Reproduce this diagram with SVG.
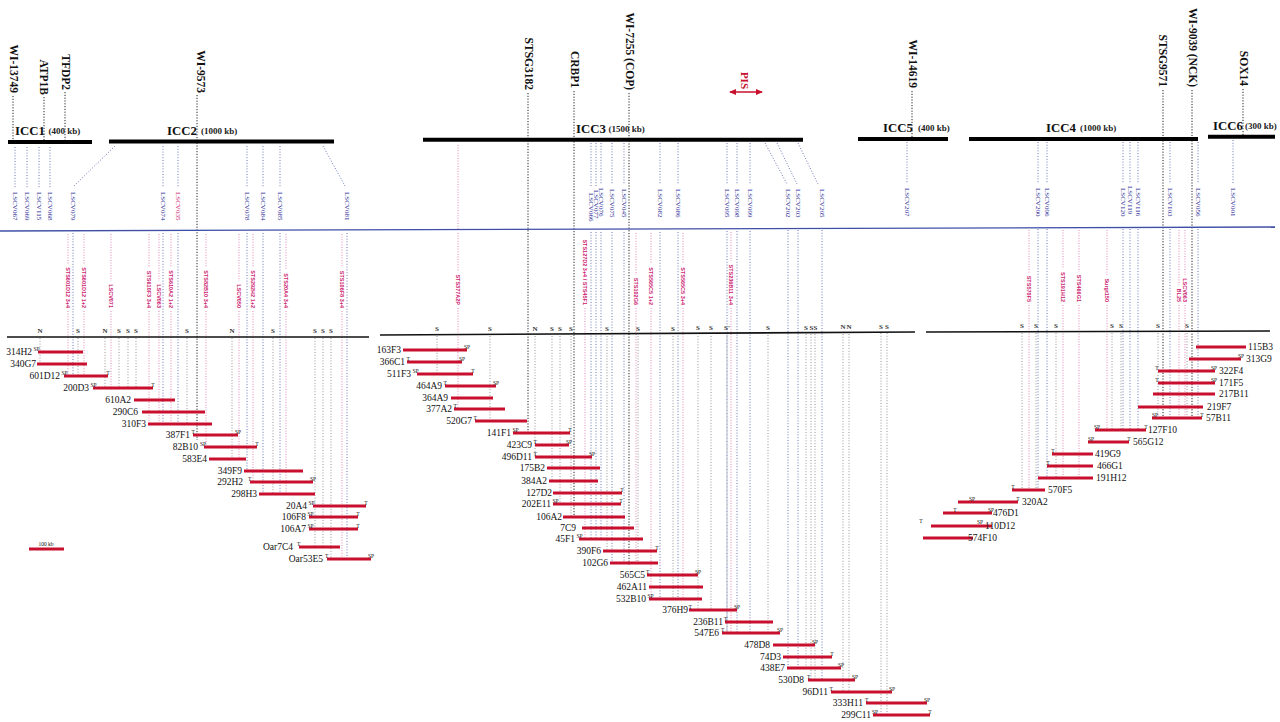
<svg xmlns="http://www.w3.org/2000/svg" width="1280" height="722" viewBox="0 0 1280 722">
<defs>
<style>
.mk{font:bold 11.5px "Liberation Serif",serif;fill:#111;text-anchor:end;dominant-baseline:central}
.icc{font:bold 12.8px "Liberation Serif",serif;fill:#111}
.kb{font:bold 9px "Liberation Serif",serif;fill:#222}
.ls{font:7px "Liberation Serif",serif;fill:#2a2a96;dominant-baseline:central}
.lsm{fill:#cc1a70}
.mg{font:bold 5.5px "Liberation Sans",sans-serif;fill:#cc1a70;text-anchor:end;dominant-baseline:central}
.sn{font:bold 7px "Liberation Serif",serif;fill:#333;text-anchor:middle}
.cl{font:9.5px "Liberation Serif",serif;fill:#111}
.sp{font:5.5px "Liberation Serif",serif;fill:#111}
.spm{font:5.5px "Liberation Serif",serif;fill:#111;text-anchor:middle}
.bar{stroke:#c8102e;stroke-width:3}
.icb{stroke:#000;stroke-width:4}
.dk{stroke:#222;stroke-width:1;stroke-dasharray:1.2 1.6;fill:none}
.bl{stroke:#5a68b0;stroke-width:0.9;stroke-dasharray:1 1.8;fill:none}
.pk{stroke:#e07aae;stroke-width:0.9;stroke-dasharray:1 1.6;fill:none}
.gy{stroke:#8a8a8a;stroke-width:0.9;stroke-dasharray:1 1.8;fill:none}
.sts{stroke:#111;stroke-width:1.6}
</style>
<marker id="arr" markerUnits="userSpaceOnUse" markerWidth="7" markerHeight="6" refX="6" refY="3" orient="auto-start-reverse"><path d="M0,0 L7,3 L0,6 z" fill="#c8102e"/></marker>
</defs>
<rect width="1280" height="722" fill="#fff"/>

<g id="connectors">
<path class="bl" d="M15 147V188M27 147V188M39 147V188M50 147V188M115 146L73 187M163 146V187M178 146V187M247 146V187M263 146V187M280 146V187M323 146L345 186M591 143V186M596 143V186M601 143V185M612 143V185M624 143V185M660 143V185M678 143V185M727 143V185M737 143V185M750 143V185M765 143L787 184M777 143L797 184M798 143L818 184M907 142V184M1038 142V184M1047 142V184M1123 142V184M1130 142V184M1138 142V184M1170 142V184M1198 142V184M1233 140V184"/>
<path class="bl" d="M73 233V376M163 233V424M178 233V424M247 233V471M263 233V494M280 233V494M347 233V559M591 232V539M596 232V539M601 232V539M612 232V563M624 232V563M660 232V599M678 232V599M727 231V633M737 231V633M750 231V633M788 230V668M798 230V668M822 230V680M1038 229V490M1047 229V478M1123 229V430M1130 229V430M1138 229V430M1170 229V418M1198 229V418"/>
<path class="pk" d="M68 234V264M68 311V376M84 234V264M84 311V376M111 234V281M111 311V388M149 234V268M149 311V424M159 234V281M159 311V424M171 234V267M171 311V424M206 234V267M206 311V447M239 234V281M239 311V459M253 234V267M253 311V482M286 234V270M286 311V494M342 234V268M342 311V559M458 145V229M458 233V271M458 308V409M585 308V539M636 233V275M636 308V563M651 233V264M651 308V599M683 233V264M683 308V599M731 232V261M731 308V633M1029 230V273M1029 305V490M1063 230V269M1063 305V478M1079 230V272M1079 305V478M1107 230V275M1107 305V430M1179 230V285M1179 305V418M1185 230V275M1185 305V418"/>
<path class="gy" d="M40 338V364M78 338V376M105 338V388M119 338V388M128 338V388M136 338V388M187 338V424M232 338V459M273 338V494M315 338V547M323 338V547M331 338V559M437 336V374M490 336V421M535 336V457M552 336V481M560 336V504M571 336V517M607 336V551M638 336V563M673 336V599M698 336V610M711 336V610M727 336V633M768 335V633M806 334V668M811 334V680M815 334V680M843 334V692M849 334V692M881 333V715M887 333V715M1022 333V490M1036 333V490M1056 333V478M1112 333V430M1121 333V430M1158 333V418M1187 333V418"/>
<path class="dk" d="M13 96V141M44 97V141M65 92V141M197 95V440M528 93V432M574 91V517M629 93V565M912 91V138M1163 90V418M1192 90V418M1243 89V136"/>
</g>

<g id="icc-bars">
<g id="icc1"><line class="icb" x1="8" y1="142" x2="92" y2="142"/><text class="icc" x="15" y="135">ICC1</text><text class="kb" x="48.5" y="134">(400 kb)</text></g>
<g id="icc2"><line class="icb" x1="109" y1="141.5" x2="334" y2="141.5"/><text class="icc" x="167" y="135">ICC2</text><text class="kb" x="201" y="134">(1000 kb)</text></g>
<g id="icc3"><line class="icb" x1="423" y1="139.7" x2="803" y2="139.7"/><text class="icc" x="576" y="133">ICC3</text><text class="kb" x="608.5" y="132">(1500 kb)</text></g>
<g id="icc5"><line class="icb" x1="858" y1="139" x2="948" y2="139"/><text class="icc" x="883" y="132">ICC5</text><text class="kb" x="918" y="131">(400 kb)</text></g>
<g id="icc4"><line class="icb" x1="969" y1="139" x2="1198" y2="139"/><text class="icc" x="1046" y="132">ICC4</text><text class="kb" x="1080" y="131">(1000 kb)</text></g>
<g id="icc6"><line class="icb" x1="1208" y1="136.7" x2="1275" y2="136.7"/><text class="icc" x="1213" y="130">ICC6</text><text class="kb" x="1245" y="129">(300 kb)</text></g>
</g>

<g id="markers">
<g id="m-wi13749"><text class="mk" transform="translate(13.8,93) rotate(90)">WI-13749</text></g>
<g id="m-atp1b"><text class="mk" transform="translate(44,95) rotate(90)">ATP1B</text></g>
<g id="m-tfdp2"><text class="mk" transform="translate(65.5,90) rotate(90)">TFDP2</text></g>
<g id="m-wi9573"><text class="mk" transform="translate(200.5,93) rotate(90)">WI-9573</text></g>
<g id="m-stsg3182"><text class="mk" transform="translate(528.5,90) rotate(90)">STSG3182</text></g>
<g id="m-crbp1"><text class="mk" transform="translate(575,88) rotate(90)">CRBP1</text></g>
<g id="m-wi7255"><text class="mk" transform="translate(630,90) rotate(90)">WI-7255 (COP)</text></g>
<g id="m-wi14619"><text class="mk" transform="translate(913,88) rotate(90)">WI-14619</text></g>
<g id="m-stsg9571"><text class="mk" transform="translate(1163,87) rotate(90)">STSG9571</text></g>
<g id="m-wi9039"><text class="mk" transform="translate(1192.5,87) rotate(90)">WI-9039 (NCK)</text></g>
<g id="m-sox14"><text class="mk" transform="translate(1243.5,86) rotate(90)">SOX14</text></g>
<g id="m-pis"><text class="mk" style="fill:#c8102e;font-size:11px" transform="translate(745,89) rotate(90)">PIS</text><line x1="730" y1="92" x2="762" y2="92" stroke="#c8102e" stroke-width="1.5" marker-start="url(#arr)" marker-end="url(#arr)"/></g>
</g>

<line id="bac-axis" x1="0" y1="231" x2="1275" y2="227" stroke="#3f4fa6" stroke-width="1.3"/>

<g id="lscv-labels">
<g id="l067"><text class="ls" transform="translate(15,192) rotate(90)">LSCV067</text></g>
<g id="l069"><text class="ls" transform="translate(27,192) rotate(90)">LSCV069</text></g>
<g id="l115"><text class="ls" transform="translate(39,192) rotate(90)">LSCV115</text></g>
<g id="l068"><text class="ls" transform="translate(50,192) rotate(90)">LSCV068</text></g>
<g id="l079"><text class="ls" transform="translate(73,192) rotate(90)">LSCV079</text></g>
<g id="l074"><text class="ls" transform="translate(163,192) rotate(90)">LSCV074</text></g>
<g id="l035"><text class="ls lsm" transform="translate(178,192) rotate(90)">LSCV035</text></g>
<g id="l078"><text class="ls" transform="translate(247,192) rotate(90)">LSCV078</text></g>
<g id="l084"><text class="ls" transform="translate(263,192) rotate(90)">LSCV084</text></g>
<g id="l085"><text class="ls" transform="translate(280,192) rotate(90)">LSCV085</text></g>
<g id="l081"><text class="ls" transform="translate(347,192) rotate(90)">LSCV081</text></g>
<g id="l066"><text class="ls" transform="translate(591,193) rotate(90)">LSCV066</text></g>
<g id="l077"><text class="ls" transform="translate(596,190) rotate(90)">LSCV077</text></g>
<g id="l076"><text class="ls" transform="translate(601,188) rotate(90)">LSCV076</text></g>
<g id="l075"><text class="ls" transform="translate(612,189) rotate(90)">LSCV075</text></g>
<g id="l045"><text class="ls" transform="translate(624,189) rotate(90)">LSCV045</text></g>
<g id="l082"><text class="ls" transform="translate(660,189) rotate(90)">LSCV082</text></g>
<g id="l086"><text class="ls" transform="translate(678,189) rotate(90)">LSCV086</text></g>
<g id="l095"><text class="ls" transform="translate(727,189) rotate(90)">LSCV095</text></g>
<g id="l098"><text class="ls" transform="translate(737,189) rotate(90)">LSCV098</text></g>
<g id="l099"><text class="ls" transform="translate(750,189) rotate(90)">LSCV099</text></g>
<g id="l202"><text class="ls" transform="translate(788,189) rotate(90)">LSCV202</text></g>
<g id="l203"><text class="ls" transform="translate(798,189) rotate(90)">LSCV203</text></g>
<g id="l205"><text class="ls" transform="translate(822,189) rotate(90)">LSCV205</text></g>
<g id="l207"><text class="ls" transform="translate(907,188) rotate(90)">LSCV207</text></g>
<g id="l200"><text class="ls" transform="translate(1038,188) rotate(90)">LSCV200</text></g>
<g id="l096"><text class="ls" transform="translate(1047,188) rotate(90)">LSCV096</text></g>
<g id="l120"><text class="ls" transform="translate(1123,188) rotate(90)">LSCV120</text></g>
<g id="l119"><text class="ls" transform="translate(1130,186) rotate(90)">LSCV119</text></g>
<g id="l116"><text class="ls" transform="translate(1138,188) rotate(90)">LSCV116</text></g>
<g id="l103"><text class="ls" transform="translate(1170,188) rotate(90)">LSCV103</text></g>
<g id="l056"><text class="ls" transform="translate(1198,188) rotate(90)">LSCV056</text></g>
<g id="l001"><text class="ls" transform="translate(1233,188) rotate(90)">LSCV001</text></g>
</g>

<g id="sts-labels">
<g id="s1"><text class="mg" transform="translate(68,308) rotate(90)">STS601D12 3+4</text></g>
<g id="s2"><text class="mg" transform="translate(84,308) rotate(90)">STS601D12 1+2</text></g>
<g id="s3"><text class="mg" transform="translate(111,308) rotate(90)">LSCV071</text></g>
<g id="s4"><text class="mg" transform="translate(149,308) rotate(90)">STS610F3 3+4</text></g>
<g id="s5"><text class="mg" transform="translate(159,308) rotate(90)">LSCV063</text></g>
<g id="s6"><text class="mg" transform="translate(171,308) rotate(90)">STS610A2 1+2</text></g>
<g id="s7"><text class="mg" transform="translate(206,308) rotate(90)">STS82B10 3+4</text></g>
<g id="s8"><text class="mg" transform="translate(239,308) rotate(90)">LSCV050</text></g>
<g id="s9"><text class="mg" transform="translate(253,308) rotate(90)">STS292H2 1+2</text></g>
<g id="s10"><text class="mg" transform="translate(286,308) rotate(90)">STS20A4 3+4</text></g>
<g id="s11"><text class="mg" transform="translate(342,308) rotate(90)">STS106F8 3+4</text></g>
<g id="s12"><text class="mg" transform="translate(458,305) rotate(90)">STS377A2P</text></g>
<g id="s13"><text class="mg" transform="translate(585,305) rotate(90)">STS127D2 3+4 / STS45F1</text></g>
<g id="s14"><text class="mg" transform="translate(636,305) rotate(90)">STS102G6</text></g>
<g id="s15"><text class="mg" transform="translate(651,305) rotate(90)">STS565C5 1+2</text></g>
<g id="s16"><text class="mg" transform="translate(683,305) rotate(90)">STS565C5 3+4</text></g>
<g id="s17"><text class="mg" transform="translate(731,305) rotate(90)">STS236B11 3+4</text></g>
<g id="s18"><text class="mg" transform="translate(1029,302) rotate(90)">STS570F5</text></g>
<g id="s19"><text class="mg" transform="translate(1063,302) rotate(90)">STS191H12</text></g>
<g id="s20"><text class="mg" transform="translate(1079,302) rotate(90)">STS466G1</text></g>
<g id="s21"><text class="mg" transform="translate(1107,302) rotate(90)">Surgt150</text></g>
<g id="s22"><text class="mg" transform="translate(1179,302) rotate(90)">BL25</text></g>
<g id="s23"><text class="mg" transform="translate(1185,302) rotate(90)">LSCV063</text></g>
</g>

<g id="sts-maps">
<line class="sts" x1="7" y1="337" x2="369" y2="337"/>
<line class="sts" x1="380" y1="335" x2="915" y2="332"/>
<line class="sts" x1="926" y1="332" x2="1270" y2="331"/>
<g id="sn-left"><text class="sn" x="40" y="333">N</text><text class="sn" x="78" y="333">S</text><text class="sn" x="105" y="333">N</text><text class="sn" x="119" y="333">S</text><text class="sn" x="128" y="333">S</text><text class="sn" x="136" y="333">S</text><text class="sn" x="187" y="333">S</text><text class="sn" x="232" y="333">N</text><text class="sn" x="273" y="333">S</text><text class="sn" x="315" y="333">S</text><text class="sn" x="323" y="333">S</text><text class="sn" x="331" y="333">S</text></g>
<g id="sn-mid"><text class="sn" x="437" y="331">S</text><text class="sn" x="490" y="331">S</text><text class="sn" x="535" y="331">N</text><text class="sn" x="552" y="331">S</text><text class="sn" x="560" y="331">S</text><text class="sn" x="571" y="331">S</text><text class="sn" x="607" y="331">S</text><text class="sn" x="638" y="331">S</text><text class="sn" x="673" y="331">S</text><text class="sn" x="698" y="330">S</text><text class="sn" x="711" y="330">S</text><text class="sn" x="727" y="330">S'</text><text class="sn" x="768" y="330">S</text><text class="sn" x="806" y="330">S</text><text class="sn" x="811.5" y="330">S</text><text class="sn" x="815.5" y="330">S</text><text class="sn" x="843" y="329">N</text><text class="sn" x="849" y="329">N</text><text class="sn" x="881" y="329">S</text><text class="sn" x="887" y="329">S</text></g>
<g id="sn-right"><text class="sn" x="1022" y="328">S</text><text class="sn" x="1036" y="328">S</text><text class="sn" x="1056" y="328">S</text><text class="sn" x="1112" y="328">S</text><text class="sn" x="1121" y="328">S</text><text class="sn" x="1158" y="328">S</text><text class="sn" x="1187" y="328">S</text></g>
</g>

<g id="clones">
<g id="c314H2"><text class="cl" x="32" y="355.3" text-anchor="end">314H2</text><line class="bar" x1="38" y1="352" x2="83" y2="352"/><text class="sp" x="33.5" y="351">SP</text></g>
<g id="c340G7"><text class="cl" x="36" y="367.3" text-anchor="end">340G7</text><line class="bar" x1="37" y1="364" x2="87" y2="364"/></g>
<g id="c601D12"><text class="cl" x="60" y="379.3" text-anchor="end">601D12</text><line class="bar" x1="64" y1="376" x2="108" y2="376"/><text class="sp" x="61.5" y="375">SP</text><text class="spm" x="108" y="375">T</text></g>
<g id="c200D3"><text class="cl" x="89" y="391.3" text-anchor="end">200D3</text><line class="bar" x1="93" y1="388" x2="153" y2="388"/><text class="sp" x="90.5" y="387">SP</text><text class="spm" x="153" y="387">T</text></g>
<g id="c610A2"><text class="cl" x="131" y="403.3" text-anchor="end">610A2</text><line class="bar" x1="134" y1="400" x2="175" y2="400"/></g>
<g id="c290C6"><text class="cl" x="138" y="415.3" text-anchor="end">290C6</text><line class="bar" x1="142" y1="412" x2="205" y2="412"/></g>
<g id="c310F3"><text class="cl" x="146" y="427.3" text-anchor="end">310F3</text><line class="bar" x1="148" y1="424" x2="212" y2="424"/></g>
<g id="c387F1"><text class="cl" x="190" y="438.3" text-anchor="end">387F1</text><line class="bar" x1="193" y1="435" x2="238" y2="435"/><text class="sp" x="191.5" y="434">T</text><text class="spm" x="238" y="434">SP</text></g>
<g id="c82B10"><text class="cl" x="198" y="450.3" text-anchor="end">82B10</text><line class="bar" x1="204" y1="447" x2="257" y2="447"/><text class="sp" x="200" y="446">SP</text><text class="spm" x="257" y="446">T</text></g>
<g id="c583E4"><text class="cl" x="207" y="462.3" text-anchor="end">583E4</text><line class="bar" x1="209" y1="459" x2="246" y2="459"/></g>
<g id="c349F9"><text class="cl" x="242" y="474.3" text-anchor="end">349F9</text><line class="bar" x1="244" y1="471" x2="303" y2="471"/></g>
<g id="c292H2"><text class="cl" x="243" y="485.3" text-anchor="end">292H2</text><line class="bar" x1="250" y1="482" x2="313" y2="482"/><text class="sp" x="248" y="481">T</text><text class="spm" x="313" y="481">SP</text></g>
<g id="c298H3"><text class="cl" x="257" y="497.3" text-anchor="end">298H3</text><line class="bar" x1="259" y1="494" x2="315" y2="494"/></g>
<g id="c20A4"><text class="cl" x="307" y="509.3" text-anchor="end">20A4</text><line class="bar" x1="313" y1="506" x2="366" y2="506"/><text class="sp" x="308.5" y="505">SP</text><text class="spm" x="366" y="505">T</text></g>
<g id="c106F8"><text class="cl" x="306" y="520.3" text-anchor="end">106F8</text><line class="bar" x1="309" y1="517" x2="358" y2="517"/><text class="sp" x="307.5" y="516">SP</text><text class="spm" x="358" y="516">T</text></g>
<g id="c106A7"><text class="cl" x="306" y="532.3" text-anchor="end">106A7</text><line class="bar" x1="309" y1="529" x2="358" y2="529"/><text class="sp" x="307.5" y="528">SP</text><text class="spm" x="358" y="528">T</text></g>
<g id="cOar7C4"><text class="cl" x="293" y="550.3" text-anchor="end">Oar7C4</text><line class="bar" x1="299" y1="547" x2="340" y2="547"/><text class="sp" x="297" y="546">T</text></g>
<g id="cOar53E5"><text class="cl" x="323" y="562.3" text-anchor="end">Oar53E5</text><line class="bar" x1="327" y1="559" x2="371" y2="559"/><text class="sp" x="325" y="558">T</text><text class="spm" x="371" y="558">SP</text></g>
<g id="scale100"><text class="sp" x="46" y="545.5" text-anchor="middle">100 kb</text><line class="bar" x1="29" y1="549" x2="64" y2="549"/></g>

<g id="c163F3"><text class="cl" x="401" y="353.3" text-anchor="end">163F3</text><line class="bar" x1="403" y1="350" x2="467" y2="350"/><text class="spm" x="467" y="349">SP</text></g>
<g id="c366C1"><text class="cl" x="405" y="365.3" text-anchor="end">366C1</text><line class="bar" x1="407" y1="362" x2="462" y2="362"/><text class="sp" x="406.5" y="361">T</text><text class="spm" x="462" y="361">SP</text></g>
<g id="c511F3"><text class="cl" x="411" y="377.3" text-anchor="end">511F3</text><line class="bar" x1="417" y1="374" x2="473" y2="374"/><text class="sp" x="412.5" y="373">SP</text><text class="spm" x="473" y="373">T</text></g>
<g id="c464A9"><text class="cl" x="442" y="389.3" text-anchor="end">464A9</text><line class="bar" x1="445" y1="386" x2="496" y2="386"/><text class="sp" x="443.5" y="385">T</text><text class="spm" x="496" y="385">SP</text></g>
<g id="c364A9"><text class="cl" x="448" y="401.3" text-anchor="end">364A9</text><line class="bar" x1="451" y1="398" x2="493" y2="398"/></g>
<g id="c377A2"><text class="cl" x="452" y="412.3" text-anchor="end">377A2</text><line class="bar" x1="454" y1="409" x2="505" y2="409"/><text class="sp" x="453.5" y="408">T</text></g>
<g id="c520G7"><text class="cl" x="472" y="424.3" text-anchor="end">520G7</text><line class="bar" x1="475" y1="421" x2="527" y2="421"/><text class="sp" x="473.5" y="420">T</text></g>
<g id="c141F1"><text class="cl" x="511" y="436.3" text-anchor="end">141F1</text><line class="bar" x1="513" y1="433" x2="570" y2="433"/><text class="sp" x="512.5" y="432">SP</text><text class="spm" x="570" y="432">T</text></g>
<g id="c423C9"><text class="cl" x="532" y="448.3" text-anchor="end">423C9</text><line class="bar" x1="535" y1="445" x2="569" y2="445"/><text class="sp" x="533.5" y="444">T</text><text class="spm" x="569" y="444">SP</text></g>
<g id="c496D11"><text class="cl" x="532" y="460.3" text-anchor="end">496D11</text><line class="bar" x1="535" y1="457" x2="592" y2="457"/><text class="sp" x="533.5" y="456">T</text><text class="spm" x="592" y="456">SP</text></g>
<g id="c175B2"><text class="cl" x="545" y="471.3" text-anchor="end">175B2</text><line class="bar" x1="547" y1="468" x2="600" y2="468"/></g>
<g id="c384A2"><text class="cl" x="547" y="484.3" text-anchor="end">384A2</text><line class="bar" x1="549" y1="481" x2="598" y2="481"/></g>
<g id="c127D2"><text class="cl" x="552" y="496.3" text-anchor="end">127D2</text><line class="bar" x1="553" y1="493" x2="622" y2="493"/><text class="spm" x="622" y="492">T</text></g>
<g id="c202E11"><text class="cl" x="551" y="507.3" text-anchor="end">202E11</text><line class="bar" x1="553" y1="504" x2="621" y2="504"/><text class="sp" x="552.5" y="503">SP</text><text class="spm" x="621" y="503">T</text></g>
<g id="c106A2"><text class="cl" x="562" y="520.3" text-anchor="end">106A2</text><line class="bar" x1="563" y1="517" x2="625" y2="517"/></g>
<g id="c7C9"><text class="cl" x="576" y="531.3" text-anchor="end">7C9</text><line class="bar" x1="582" y1="528" x2="634" y2="528"/></g>
<g id="c45F1"><text class="cl" x="575" y="542.3" text-anchor="end">45F1</text><line class="bar" x1="579" y1="539" x2="643" y2="539"/><text class="sp" x="576.5" y="538">SP</text></g>
<g id="c390F6"><text class="cl" x="601" y="554.3" text-anchor="end">390F6</text><line class="bar" x1="603" y1="551" x2="657" y2="551"/><text class="spm" x="657" y="550">T</text></g>
<g id="c102G6"><text class="cl" x="608" y="566.3" text-anchor="end">102G6</text><line class="bar" x1="610" y1="563" x2="658" y2="563"/></g>
<g id="c565C5"><text class="cl" x="645" y="578.3" text-anchor="end">565C5</text><line class="bar" x1="647" y1="575" x2="698" y2="575"/><text class="sp" x="646" y="574">T</text><text class="spm" x="698" y="574">SP</text></g>
<g id="c462A11"><text class="cl" x="647" y="590.3" text-anchor="end">462A11</text><line class="bar" x1="649" y1="587" x2="703" y2="587"/></g>
<g id="c532B10"><text class="cl" x="646" y="602.3" text-anchor="end">532B10</text><line class="bar" x1="649" y1="599" x2="702" y2="599"/><text class="sp" x="647.5" y="598">SP</text></g>
<g id="c376H9"><text class="cl" x="688" y="613.3" text-anchor="end">376H9</text><line class="bar" x1="689" y1="610" x2="737" y2="610"/><text class="sp" x="688.5" y="609">T</text><text class="spm" x="737" y="609">SP</text></g>
<g id="c236B11"><text class="cl" x="723" y="625.3" text-anchor="end">236B11</text><line class="bar" x1="725" y1="622" x2="773" y2="622"/><text class="sp" x="724" y="621">T</text></g>
<g id="c547E6"><text class="cl" x="719" y="636.3" text-anchor="end">547E6</text><line class="bar" x1="722" y1="633" x2="780" y2="633"/><text class="sp" x="721" y="632">T</text><text class="spm" x="780" y="632">SP</text></g>
<g id="c478D8"><text class="cl" x="770" y="648.3" text-anchor="end">478D8</text><line class="bar" x1="773" y1="645" x2="815" y2="645"/><text class="spm" x="815" y="644">SP</text></g>
<g id="c74D3"><text class="cl" x="781" y="660.3" text-anchor="end">74D3</text><line class="bar" x1="783" y1="657" x2="832" y2="657"/><text class="spm" x="832" y="656">T</text></g>
<g id="c438E7"><text class="cl" x="785" y="671.3" text-anchor="end">438E7</text><line class="bar" x1="787" y1="668" x2="841" y2="668"/><text class="spm" x="841" y="667">SP</text></g>
<g id="c530D8"><text class="cl" x="804" y="683.3" text-anchor="end">530D8</text><line class="bar" x1="808" y1="680" x2="855" y2="680"/><text class="sp" x="807" y="679">T</text><text class="spm" x="855" y="679">SP</text></g>
<g id="c96D11"><text class="cl" x="828" y="695.3" text-anchor="end">96D11</text><line class="bar" x1="831" y1="692" x2="892" y2="692"/><text class="sp" x="829.5" y="691">T</text><text class="spm" x="892" y="691">SP</text></g>
<g id="c333H11"><text class="cl" x="863" y="706.3" text-anchor="end">333H11</text><line class="bar" x1="866" y1="703" x2="927" y2="703"/><text class="sp" x="865" y="702">T</text><text class="spm" x="927" y="702">SP</text></g>
<g id="c299C11"><text class="cl" x="871" y="718.3" text-anchor="end">299C11</text><line class="bar" x1="873" y1="715" x2="930" y2="715"/><text class="sp" x="872" y="714">SP</text><text class="spm" x="930" y="714">T</text></g>

<g id="c115B3"><line class="bar" x1="1196" y1="347" x2="1246" y2="347"/><text class="cl" x="1248" y="350.3">115B3</text></g>
<g id="c313G9"><line class="bar" x1="1189" y1="359" x2="1241" y2="359"/><text class="spm" x="1241" y="358">SP</text><text class="cl" x="1246" y="362.3">313G9</text></g>
<g id="c322F4"><line class="bar" x1="1158" y1="371" x2="1215" y2="371"/><text class="spm" x="1157" y="370">T</text><text class="spm" x="1214" y="370">SP</text><text class="cl" x="1219" y="374.3">322F4</text></g>
<g id="c171F5"><line class="bar" x1="1158" y1="383" x2="1215" y2="383"/><text class="spm" x="1157" y="382">T</text><text class="spm" x="1214" y="382">SP</text><text class="cl" x="1219" y="386.3">171F5</text></g>
<g id="c217B11"><line class="bar" x1="1153" y1="394" x2="1215" y2="394"/><text class="cl" x="1219" y="397.3">217B11</text></g>
<g id="c219F7"><line class="bar" x1="1138" y1="407" x2="1203" y2="407"/><text class="cl" x="1207" y="410.3">219F7</text></g>
<g id="c57B11"><line class="bar" x1="1152" y1="418" x2="1202" y2="418"/><text class="sp" x="1152" y="417">SP</text><text class="spm" x="1202" y="417">T</text><text class="cl" x="1206" y="421.3">57B11</text></g>
<g id="c127F10"><line class="bar" x1="1095" y1="430" x2="1146" y2="430"/><text class="sp" x="1094" y="429">SP</text><text class="spm" x="1146" y="429">T</text><text class="cl" x="1148" y="433.3">127F10</text></g>
<g id="c565G12"><line class="bar" x1="1088" y1="442" x2="1129" y2="442"/><text class="sp" x="1088" y="441">SP</text><text class="spm" x="1129" y="441">T</text><text class="cl" x="1133" y="445.3">565G12</text></g>
<g id="c419G9"><line class="bar" x1="1052" y1="454" x2="1093" y2="454"/><text class="spm" x="1053" y="453">T</text><text class="cl" x="1095" y="457.3">419G9</text></g>
<g id="c466G1"><line class="bar" x1="1047" y1="466" x2="1093" y2="466"/><text class="spm" x="1048" y="465">T</text><text class="cl" x="1097" y="469.3">466G1</text></g>
<g id="c191H12"><line class="bar" x1="1038" y1="478" x2="1093" y2="478"/><text class="cl" x="1096" y="481.3">191H12</text></g>
<g id="c570F5"><line class="bar" x1="1012" y1="490" x2="1045" y2="490"/><text class="spm" x="1013" y="489">T</text><text class="cl" x="1048" y="493.3">570F5</text></g>
<g id="c320A2"><line class="bar" x1="958" y1="502" x2="1018" y2="502"/><text class="spm" x="972" y="501">SP</text><text class="spm" x="1018" y="501">T</text><text class="cl" x="1022" y="505.3">320A2</text></g>
<g id="c476D1"><line class="bar" x1="943" y1="513" x2="992" y2="513"/><text class="spm" x="955" y="512">T</text><text class="spm" x="991" y="512">SP</text><text class="cl" x="993" y="516.3">476D1</text></g>
<g id="c110D12"><line class="bar" x1="931" y1="526" x2="992" y2="526"/><text class="spm" x="921" y="523">T</text><text class="spm" x="980" y="524">SP</text><text class="cl" x="985" y="529.3">110D12</text></g>
<g id="c574F10"><line class="bar" x1="923" y1="538" x2="973" y2="538"/><text class="cl" x="968" y="541.3">574F10</text></g>
</g>
</svg>
